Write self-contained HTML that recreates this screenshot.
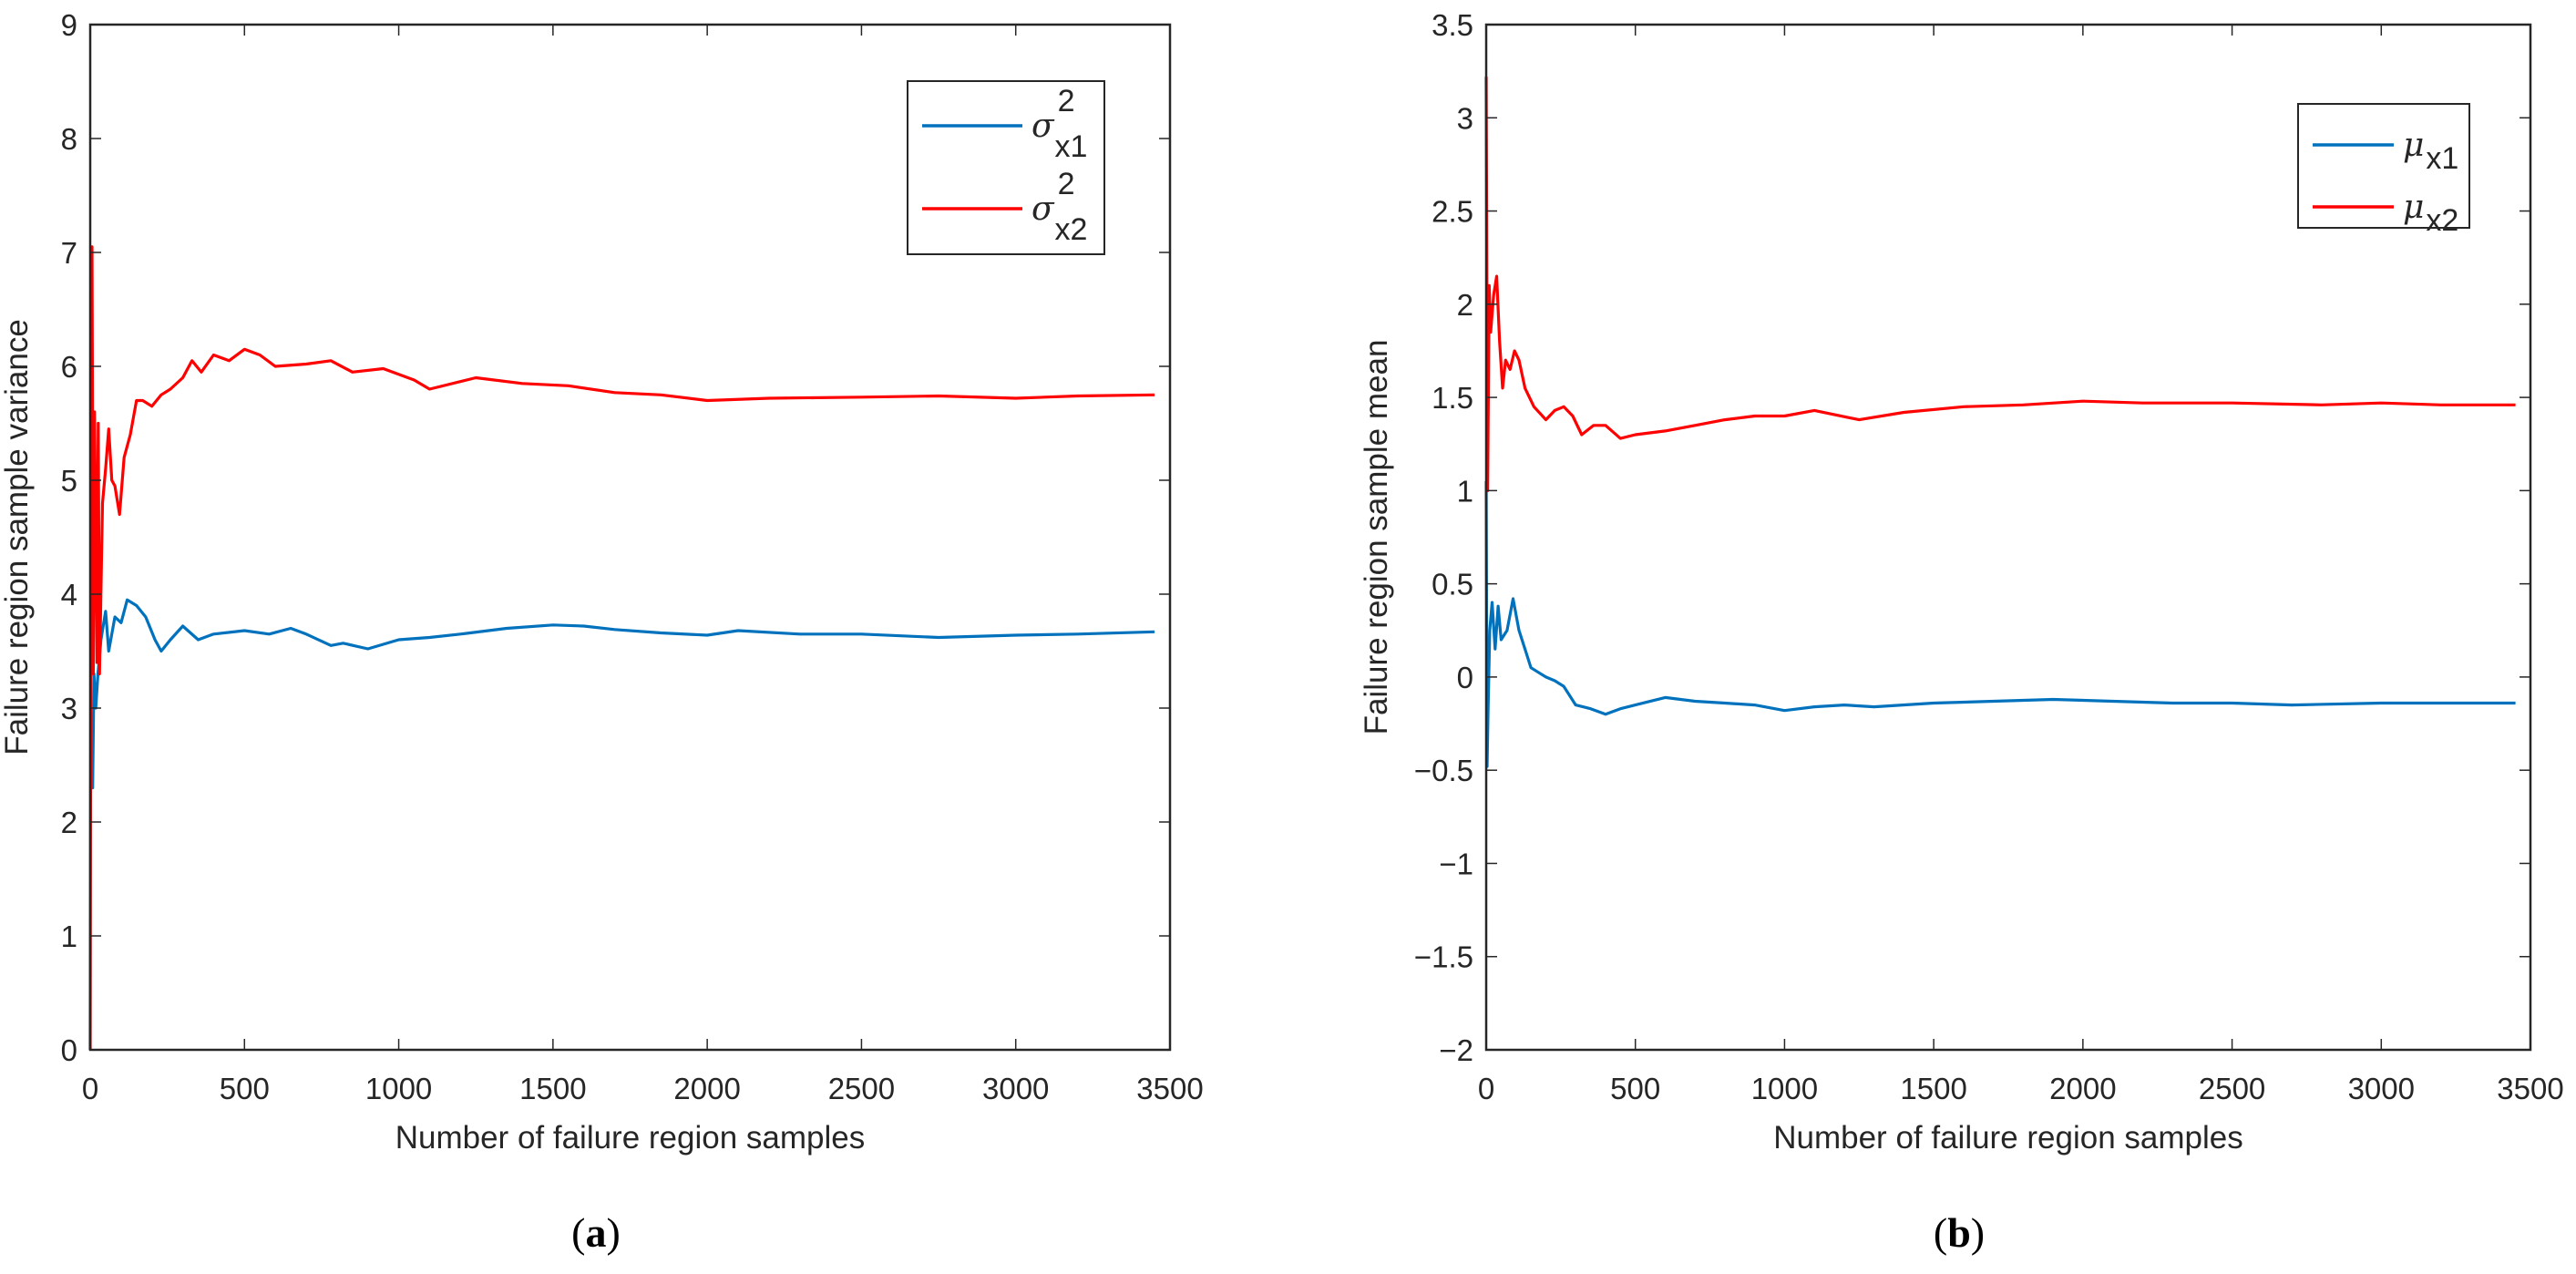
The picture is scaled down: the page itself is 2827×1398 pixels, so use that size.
<!DOCTYPE html>
<html><head><meta charset="utf-8">
<style>
html,body{margin:0;padding:0;background:#fff;}
svg{display:block;font-family:"Liberation Sans",sans-serif;}
</style></head>
<body>
<svg id="fig" width="2827" height="1398" viewBox="0 0 2827 1398" xmlns="http://www.w3.org/2000/svg"></svg>
<script>
// ---- data: panel (a) variance ----
const xA1 = [0,8,12,18,25,35,50,60,80,100,120,150,180,210,230,260,300,350,400,500,580,650,700,780,820,900,1000,1100,1200,1350,1500,1600,1700,1850,2000,2100,2300,2500,2750,3000,3200,3450];
const yA1 = [2.3,2.3,3.3,3.0,3.3,3.6,3.85,3.5,3.8,3.75,3.95,3.9,3.8,3.6,3.5,3.6,3.72,3.6,3.65,3.68,3.65,3.7,3.65,3.55,3.57,3.52,3.6,3.62,3.65,3.7,3.73,3.72,3.69,3.66,3.64,3.68,3.65,3.65,3.62,3.64,3.65,3.67];
const xA2 = [0,3,6,10,14,18,22,26,30,40,50,60,70,80,95,110,130,150,170,200,230,260,300,330,360,400,450,500,550,600,700,780,850,950,1050,1100,1250,1400,1550,1700,1850,2000,2200,2500,2750,3000,3200,3450];
const yA2 = [0,5.6,7.05,3.3,5.6,4.6,3.4,5.5,3.3,4.8,5.1,5.45,5.0,4.95,4.7,5.2,5.4,5.7,5.7,5.65,5.75,5.8,5.9,6.05,5.95,6.1,6.05,6.15,6.1,6.0,6.02,6.05,5.95,5.98,5.88,5.8,5.9,5.85,5.83,5.77,5.75,5.7,5.72,5.73,5.74,5.72,5.74,5.75];
// ---- data: panel (b) mean ----
const xB1 = [0,3,6,12,20,30,40,50,70,90,110,130,150,180,200,230,260,300,350,400,450,500,600,700,800,900,1000,1100,1200,1300,1500,1700,1900,2100,2300,2500,2700,3000,3200,3450];
const yB1 = [1.05,-0.48,-0.2,0.25,0.4,0.15,0.38,0.2,0.25,0.42,0.25,0.15,0.05,0.02,0.0,-0.02,-0.05,-0.15,-0.17,-0.2,-0.17,-0.15,-0.11,-0.13,-0.14,-0.15,-0.18,-0.16,-0.15,-0.16,-0.14,-0.13,-0.12,-0.13,-0.14,-0.14,-0.15,-0.14,-0.14,-0.14];
const xB2 = [0,2,5,10,15,25,35,45,55,65,80,95,110,130,160,200,230,260,290,320,360,400,450,500,600,700,800,900,1000,1100,1250,1400,1600,1800,2000,2200,2500,2800,3000,3200,3450];
const yB2 = [3.22,2.2,1.0,2.1,1.85,2.05,2.15,1.8,1.55,1.7,1.65,1.75,1.7,1.55,1.45,1.38,1.43,1.45,1.4,1.3,1.35,1.35,1.28,1.3,1.32,1.35,1.38,1.4,1.4,1.43,1.38,1.42,1.45,1.46,1.48,1.47,1.47,1.46,1.47,1.46,1.46];
const xTicks = [0,500,1000,1500,2000,2500,3000,3500];
const yTicksA = [0,1,2,3,4,5,6,7,8,9];
const yTicksB = [-2,-1.5,-1,-0.5,0,0.5,1,1.5,2,2.5,3,3.5];
const yTickLabelsB = ["\u22122","\u22121.5","\u22121","\u22120.5","0","0.5","1","1.5","2","2.5","3","3.5"];

const NS="http://www.w3.org/2000/svg";
const svg=document.getElementById('fig');
function mk(tag,attrs,parent){const e=document.createElementNS(NS,tag);for(const k in attrs)e.setAttribute(k,attrs[k]);(parent||svg).appendChild(e);return e;}

function panel(p){
  const g=mk('g',{});
  
  
  const sx=v=>p.x0+(v-0)/(3500-0)*(p.x1-p.x0);
  const sy=v=>p.y1-(v-p.ymin)/(p.ymax-p.ymin)*(p.y1-p.y0);
  p.series.forEach(s=>{
    let d='';
    s.x.forEach((v,i)=>{d+=(i?'L':'M')+sx(v).toFixed(1)+' '+sy(s.y[i]).toFixed(1);});
    const path=mk('path',{d:d,fill:'none',stroke:s.color,'stroke-width':3.2,'stroke-linejoin':'round'},g);
    
    
  });
  const box=mk('rect',{x:p.x0,y:p.y0,width:p.x1-p.x0,height:p.y1-p.y0,fill:'none',stroke:'#262626','stroke-width':2.5},g);
  
  
  xTicks.forEach(t=>{
    const X=sx(t);
    mk('line',{x1:X,x2:X,y1:p.y1,y2:p.y1-12,stroke:'#262626','stroke-width':1.5},g);
    mk('line',{x1:X,x2:X,y1:p.y0,y2:p.y0+12,stroke:'#262626','stroke-width':1.5},g);
    const tx=mk('text',{x:X,y:p.y1+54,'font-size':33,'text-anchor':'middle',fill:'#262626'},g);
    tx.textContent=String(t);
    
    
  });
  p.yticks.forEach((t,i)=>{
    const Y=sy(t);
    mk('line',{x1:p.x0,x2:p.x0+12,y1:Y,y2:Y,stroke:'#262626','stroke-width':1.5},g);
    mk('line',{x1:p.x1,x2:p.x1-12,y1:Y,y2:Y,stroke:'#262626','stroke-width':1.5},g);
    const tx=mk('text',{x:p.x0-14,y:Y+12,'font-size':33,'text-anchor':'end',fill:'#262626'},g);
    tx.textContent=p.ylabels[i];
    
    
  });
  const xl=mk('text',{x:(p.x0+p.x1)/2,y:p.y1+108,'font-size':35,'text-anchor':'middle',fill:'#262626'},g);
  xl.textContent='Number of failure region samples';
  
  
  const yc=(p.y0+p.y1)/2;
  const yl=mk('text',{x:p.ylx,y:yc,'font-size':35,'text-anchor':'middle',fill:'#262626',transform:'rotate(-90 '+p.ylx+' '+yc+')'},g);
  yl.textContent=p.ytitle;
  
  
  const L=p.legend;
  const lg=mk('g',{},g);
  
  
  mk('rect',{x:L.x,y:L.y,width:L.w,height:L.h,fill:'#fff',stroke:'#262626','stroke-width':2},lg);
  L.items.forEach(it=>{
    const e=mk('g',{},lg);
    
    
    mk('line',{x1:it.lx1,x2:it.lx2,y1:it.y,y2:it.y,stroke:it.color,'stroke-width':3.5},e);
    const t=mk('text',{x:it.lx2+10,y:it.y+12,'font-size':36,fill:'#262626'},e);
    t.innerHTML=it.html;
  });
}

panel({name:'panel-a-variance',x0:99,x1:1284,y0:27,y1:1152,ymin:0,ymax:9,yticks:yTicksA,ylabels:yTicksA.map(String),
  ytitle:'Failure region sample variance',ylx:30,
  series:[{name:'sigma-x1-line',x:xA1,y:yA1,color:'#0072BD'},{name:'sigma-x2-line',x:xA2,y:yA2,color:'#FF0000'}],
  legend:{x:996,y:89,w:216,h:190,items:[
    {lx1:1012,lx2:1122,y:138,color:'#0072BD',html:'<tspan font-style="italic" font-family="DejaVu Serif">σ</tspan><tspan font-size="34" dx="4" dy="-28">2</tspan><tspan font-size="34" dx="-22" dy="50">x1</tspan>'},
    {lx1:1012,lx2:1122,y:229,color:'#FF0000',html:'<tspan font-style="italic" font-family="DejaVu Serif">σ</tspan><tspan font-size="34" dx="4" dy="-28">2</tspan><tspan font-size="34" dx="-22" dy="50">x2</tspan>'}]}
});
panel({name:'panel-b-mean',x0:1631,x1:2777,y0:27,y1:1152,ymin:-2,ymax:3.5,yticks:yTicksB,ylabels:yTickLabelsB,
  ytitle:'Failure region sample mean',ylx:1522,
  series:[{name:'mu-x1-line',x:xB1,y:yB1,color:'#0072BD'},{name:'mu-x2-line',x:xB2,y:yB2,color:'#FF0000'}],
  legend:{x:2522,y:114,w:188,h:136,items:[
    {lx1:2538,lx2:2627,y:159,color:'#0072BD',html:'<tspan font-style="italic" font-family="DejaVu Serif">μ</tspan><tspan font-size="34" dx="2" dy="14">x1</tspan>'},
    {lx1:2538,lx2:2627,y:227,color:'#FF0000',html:'<tspan font-style="italic" font-family="DejaVu Serif">μ</tspan><tspan font-size="34" dx="2" dy="14">x2</tspan>'}]}
});
const ca=mk('text',{x:654,y:1368,'font-size':46,'text-anchor':'middle','font-family':'Liberation Serif',fill:'#000'});
ca.innerHTML='(<tspan font-weight="bold">a</tspan>)';


const cb=mk('text',{x:2150,y:1368,'font-size':46,'text-anchor':'middle','font-family':'Liberation Serif',fill:'#000'});
cb.innerHTML='(<tspan font-weight="bold">b</tspan>)';


</script>
</body></html>
